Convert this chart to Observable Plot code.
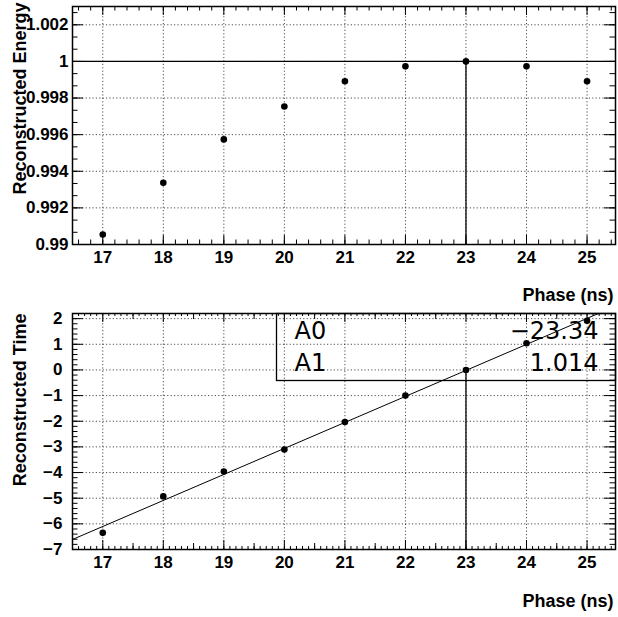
<!DOCTYPE html>
<html>
<head>
<meta charset="utf-8">
<script src="https://cdn.jsdelivr.net/npm/d3@7"></script>
<script src="https://cdn.jsdelivr.net/npm/@observablehq/plot@0.6"></script>
<style>
  html, body { margin: 0; padding: 0; background: #fff; }
  #wrap { position: relative; width: 618px; height: 617px; overflow: hidden; }
  #top, #bot { position: absolute; left: 0; }
  #top { top: 0; }
  #bot { top: 308px; }
  svg { overflow: visible; }
</style>
</head>
<body>
<div id="wrap"><div id="top"></div><div id="bot"></div></div>
<script>
// ---- data ----
const phases = [17, 18, 19, 20, 21, 22, 23, 24, 25];
const energy = [0.99055, 0.99337, 0.99574, 0.99754, 0.99892, 0.99973, 1.0, 0.99973, 0.99892];
const times = [-6.35, -4.93, -3.96, -3.10, -2.03, -1.00, 0.00, 1.04, 1.92];
const fitNames = ["A0", "A1"];
const fitLabels = ["\u221223.34", "1.014"];
const fitValues = [-23.34, 1.014];
const xTickLabels = [17, 18, 19, 20, 21, 22, 23, 24, 25];
const energyTicks = [0.99, 0.992, 0.994, 0.996, 0.998, 1.0, 1.002];
const timeTicks = [-7, -6, -5, -4, -3, -2, -1, 0, 1, 2];
const xTitle = "Phase (ns)";
const energyTitle = "Reconstructed Energy";
const timeTitle = "Reconstructed Time";

const xDomain = [16.5, 25.47];
const eDomain = [0.99, 1.003];
const tDomain = [-7, 2.2];

const energyRows = phases.map((p, i) => ({phase: p, e: energy[i]}));
const timeRows = phases.map((p, i) => ({phase: p, t: times[i]}));
const A0 = fitValues[0], A1 = fitValues[1];
const fitRows = xDomain.map(x => ({phase: x, t: A0 + A1 * x}));

const FONT = "'Liberation Sans', Arial, Helvetica, sans-serif";
const STATFONT = "'DejaVu Sans', sans-serif";
const fmtMinus = d => String(+d.toFixed(3)).replace("-", "\u2212");
const rng = (a, b, s) => d3.range(Math.round((b - a) / s) + 1).map(i => +(a + i * s).toFixed(6));

function tickMarksX(values, frameH, len) {
  return [
    Plot.tickX(values, {x: d => d, insetTop: frameH - len, stroke: "#000", strokeWidth: 1}),
    Plot.tickX(values, {x: d => d, insetBottom: frameH - len, stroke: "#000", strokeWidth: 1})
  ];
}
function tickMarksY(values, frameW, len) {
  return [
    Plot.tickY(values, {y: d => d, insetRight: frameW - len, stroke: "#000", strokeWidth: 1}),
    Plot.tickY(values, {y: d => d, insetLeft: frameW - len, stroke: "#000", strokeWidth: 1})
  ];
}

const W = 618, ML = 72, MR = 3;
const frameW = W - ML - MR;
const LABEL = {fontSize: 17, fontWeight: "bold"};
const grid = {stroke: "#000", strokeOpacity: 0.7, strokeDasharray: "1.2,2.2", strokeWidth: 1};

// ---- top panel ----
const topH = 308, topMT = 6, topMB = 64;
const topFH = topH - topMT - topMB;

const topPlot = Plot.plot({
  width: W, height: topH,
  marginLeft: ML, marginRight: MR, marginTop: topMT, marginBottom: topMB,
  style: {fontFamily: FONT, background: "white", overflow: "visible"},
  x: {domain: xDomain},
  y: {domain: eDomain},
  marks: [
    Plot.gridX(xTickLabels, grid),
    Plot.gridY(energyTicks, grid),
    ...tickMarksX(rng(16.6, 25.4, 0.2), topFH, 4.5),
    ...tickMarksX(xTickLabels, topFH, 9),
    ...tickMarksY(rng(0.99, 1.003, 0.002 / 3), frameW, 5.5),
    ...tickMarksY(energyTicks, frameW, 11),
    Plot.axisX(xTickLabels, {tickSize: 0, tickPadding: 6, ...LABEL, label: null, tickFormat: d => String(d)}),
    Plot.axisY(energyTicks, {tickSize: 0, tickPadding: 4, ...LABEL, label: null, tickFormat: fmtMinus}),
    Plot.ruleY([1], {stroke: "#000", strokeWidth: 1.3}),
    Plot.ruleX([23], {y1: eDomain[0], y2: 1, stroke: "#000", strokeWidth: 1.3}),
    Plot.dot(energyRows, {x: "phase", y: "e", r: 3.3, fill: "#000", stroke: "none"}),
    Plot.frame({stroke: "#000", strokeWidth: 1.5}),
    Plot.text([xTitle], {text: d => d, frameAnchor: "bottom-right", textAnchor: "end", lineAnchor: "bottom", dx: -2, dy: 56, fontSize: 18, fontWeight: "bold"}),
    Plot.text([energyTitle], {text: d => d, frameAnchor: "top-left", rotate: -90, textAnchor: "end", lineAnchor: "middle", dx: -52, dy: -4, fontSize: 18, fontWeight: "bold"})
  ]
});
document.getElementById("top").appendChild(topPlot);

// ---- bottom panel ----
const botH = 309, botMT = 5, botMB = 68;
const botFH = botH - botMT - botMB;
const statText = {frameAnchor: "top-left", textAnchor: "start", lineAnchor: "bottom", fontSize: 24, fontFamily: STATFONT, fill: "#000"};
const statVal = {frameAnchor: "top-right", textAnchor: "end", lineAnchor: "bottom", fontSize: 24, fontFamily: STATFONT, fill: "#000"};

const botPlot = Plot.plot({
  width: W, height: botH,
  marginLeft: ML, marginRight: MR, marginTop: botMT, marginBottom: botMB,
  style: {fontFamily: FONT, background: "white", overflow: "visible"},
  x: {domain: xDomain},
  y: {domain: tDomain},
  marks: [
    Plot.gridX(xTickLabels, grid),
    Plot.gridY(timeTicks, grid),
    ...tickMarksX(rng(16.6, 25.4, 0.1), botFH, 3),
    ...tickMarksX(rng(16.5, 25.5, 1).filter(v => v < xDomain[1] && v > xDomain[0]), botFH, 6),
    ...tickMarksX(xTickLabels, botFH, 9),
    ...tickMarksY(rng(-7, 2.2, 0.2), frameW, 5.5),
    ...tickMarksY(timeTicks, frameW, 11),
    Plot.axisX(xTickLabels, {tickSize: 0, tickPadding: 6, ...LABEL, label: null, tickFormat: d => String(d)}),
    Plot.axisY(timeTicks, {tickSize: 0, tickPadding: 10, ...LABEL, label: null, tickFormat: fmtMinus}),
    Plot.ruleX([23], {y1: tDomain[0], y2: 0, stroke: "#000", strokeWidth: 1.3}),
    Plot.frame({insetLeft: 204, insetBottom: botFH - 67, stroke: "#000", strokeWidth: 1.3}),
    Plot.text([fitNames[0]], {text: d => d, ...statText, dx: 222, dy: 25}),
    Plot.text([fitNames[1]], {text: d => d, ...statText, dx: 222, dy: 57}),
    Plot.text([fitLabels[0]], {text: d => d, ...statVal, dx: -17, dy: 25}),
    Plot.text([fitLabels[1]], {text: d => d, ...statVal, dx: -17, dy: 57}),
    Plot.line(fitRows, {x: "phase", y: "t", stroke: "#000", strokeWidth: 1, clip: true}),
    Plot.dot(timeRows, {x: "phase", y: "t", r: 3.3, fill: "#000", stroke: "none"}),
    Plot.frame({stroke: "#000", strokeWidth: 1.5}),
    Plot.text([xTitle], {text: d => d, frameAnchor: "bottom-right", textAnchor: "end", lineAnchor: "bottom", dx: -2, dy: 57, fontSize: 18, fontWeight: "bold"}),
    Plot.text([timeTitle], {text: d => d, frameAnchor: "top-left", rotate: -90, textAnchor: "end", lineAnchor: "middle", dx: -52, dy: 0, fontSize: 18, fontWeight: "bold"})
  ]
});
document.getElementById("bot").appendChild(botPlot);
</script>
</body>
</html>
